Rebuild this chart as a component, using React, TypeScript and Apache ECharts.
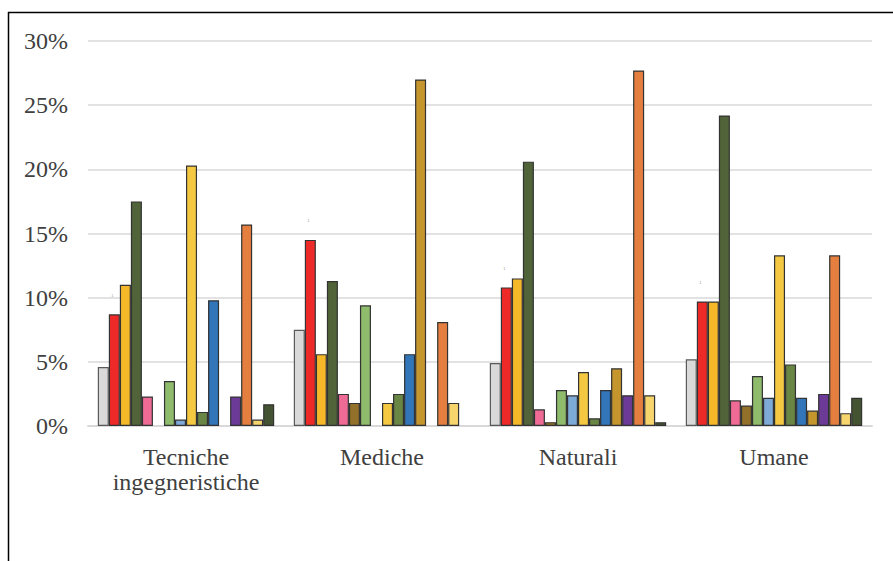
import React, { useEffect, useRef } from "react";
import * as echarts from "echarts";

const categories = ["Tecniche\ningegneristiche", "Mediche", "Naturali", "Umane"];
const yTicks = [0, 5, 10, 15, 20, 25, 30];

// null = no bar drawn for that category
const s1 = [4.6, 7.5, 4.9, 5.2];
const s2 = [8.7, 14.5, 10.8, 9.7];
const s3 = [11.0, 5.6, 11.5, 9.7];
const s4 = [17.5, 11.3, 20.6, 24.2];
const s5 = [2.3, 2.5, 1.3, 2.0];
const s6 = [null, 1.8, 0.3, 1.6];
const s7 = [3.5, 9.4, 2.8, 3.9];
const s8 = [0.5, null, 2.4, 2.2];
const s9 = [20.3, 1.8, 4.2, 13.3];
const s10 = [1.1, 2.5, 0.6, 4.8];
const s11 = [9.8, 5.6, 2.8, 2.2];
const s12 = [null, 27.0, 4.5, 1.2];
const s13 = [2.3, null, 2.4, 2.5];
const s14 = [15.7, 8.1, 27.7, 13.3];
const s15 = [0.5, 1.8, 2.4, 1.0];
const s16 = [1.7, null, 0.3, 2.2];

const seriesData = [s1, s2, s3, s4, s5, s6, s7, s8, s9, s10, s11, s12, s13, s14, s15, s16];
const seriesColors = [
  "#d9d9d9", "#ee2a28", "#f4b829", "#516339", "#ef6b96", "#94712a", "#8fbb6d", "#7eaad8",
  "#f5c842", "#6a8645", "#3276b9", "#c4962d", "#6c3a97", "#e57f40", "#f7d56d", "#445331",
];

export default function App() {
  const ref = useRef<HTMLDivElement>(null);
  useEffect(() => {
    if (!ref.current) return;
    const chart = echarts.init(ref.current, null, { renderer: "svg" });
    const font = "'Liberation Serif', 'Times New Roman', serif";
    chart.setOption({
      animation: false,
      backgroundColor: "#ffffff",
      grid: { left: 88, right: 21, top: 41, bottom: 135, containLabel: false },
      xAxis: {
        type: "category",
        data: categories,
        axisLine: { show: true, lineStyle: { color: "#d9d9d9", width: 2 } },
        axisTick: { show: false },
        axisLabel: {
          fontFamily: font,
          fontSize: 24,
          lineHeight: 25,
          color: "#404040",
          margin: 18,
          interval: 0,
        },
      },
      yAxis: {
        type: "value",
        min: 0,
        max: 30,
        interval: 5,
        axisLine: { show: false },
        axisTick: { show: false },
        splitLine: { lineStyle: { color: "#d9d9d9", width: 1.5 } },
        axisLabel: {
          fontFamily: font,
          fontSize: 24,
          color: "#404040",
          margin: 20,
          formatter: (v: number) => (yTicks.includes(v) ? v + "%" : ""),
        },
      },
      series: seriesData.map((d, i) => ({
        type: "bar",
        name: "Serie " + (i + 1),
        data: d,
        barGap: "0%",
        barCategoryGap: "10%",
        itemStyle: {
          color: seriesColors[i],
          borderColor: i === 0 ? "#5a5a5a" : "#333333",
          borderWidth: 1.2,
        },
        label:
          i === 1
            ? {
                show: true,
                position: "top",
                offset: [-2, -12],
                formatter: "1",
                fontSize: 4,
                color: "#a0a0a0",
              }
            : { show: false },
      })),
      graphic: [
        { type: "line", shape: { x1: 8, y1: 12.5, x2: 893, y2: 12.5 }, style: { stroke: "#000", lineWidth: 1.5 } },
        { type: "line", shape: { x1: 8.5, y1: 12, x2: 8.5, y2: 561 }, style: { stroke: "#000", lineWidth: 1.5 } },
      ],
    });
    return () => chart.dispose();
  }, []);
  return (
    <div
      ref={ref}
      style={{ position: "absolute", left: 0, top: 0, width: 893, height: 561 }}
    />
  );
}
